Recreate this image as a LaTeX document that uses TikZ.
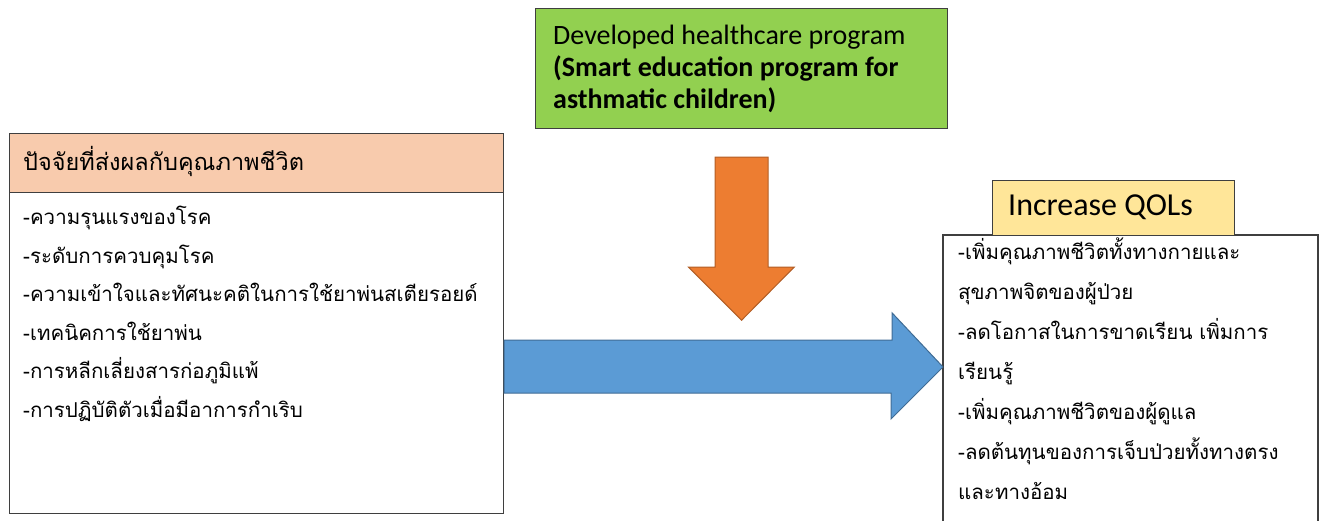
\documentclass[tikz,border=0pt]{standalone}
\usepackage{fontspec}
\usepackage{xcolor}
\setmainfont{Carlito}
\newfontfamily\thaifont[Script=Thai]{Loma}
\usetikzlibrary{calc}

\definecolor{headorange}{HTML}{F8CBAD}
\definecolor{proggreen}{HTML}{92D050}
\definecolor{qolyellow}{HTML}{FFE699}
\definecolor{arrorange}{HTML}{ED7D31}
\definecolor{arrblue}{HTML}{5B9BD5}
\definecolor{boxline}{HTML}{3F3F3F}

\begin{document}
\begin{tikzpicture}[x=1pt,y=-1pt,
  box/.style={draw=boxline, line width=1.2pt, anchor=north west, inner sep=0pt},
  thaibody/.style={anchor=base west, align=left, inner sep=0pt},
  bigarrow/.style={line width=1pt, line join=miter}]
\useasboundingbox (0,0) rectangle (1320,520);

% factors (left)
\node[box, fill=headorange, minimum width=494pt, minimum height=59pt] (facHead) at (9,133) {};
\node[box, fill=white, minimum width=494pt, minimum height=321pt] (facBody) at (9,192) {};
\node[anchor=west, inner sep=0pt, font=\thaifont\fontsize{23.5}{28}\selectfont] (facTitle) at (23,161) {ปัจจัยที่ส่งผลกับคุณภาพชีวิต};
% base anchor sits on the last line
\node[thaibody, font=\thaifont\fontsize{20.5}{38.5}\selectfont] (facList) at (23,417) {%
-ความรุนแรงของโรค\\
-ระดับการควบคุมโรค\\
-ความเข้าใจและทัศนะคติในการใช้ยาพ่นสเตียรอยด์\\
-เทคนิคการใช้ยาพ่น\\
-การหลีกเลี่ยงสารก่อภูมิแพ้\\
-การปฏิบัติตัวเมื่อมีอาการกำเริบ};

% program (top)
\node[box, fill=proggreen, minimum width=412pt, minimum height=120pt] (prog) at (535,8) {};
\node[anchor=base west, align=left, inner sep=0pt, font=\fontsize{28}{32}\selectfont] (progText) at (553,108) {%
Developed healthcare program\\
\textbf{(Smart education program for}\\
\textbf{asthmatic children)}};

% quality of life (right)
\draw[draw=boxline, line width=1.2pt, fill=white] (943,521) -- (943,235) -- (1318,235) -- (1318,521);
\coordinate (qolBody) at (943,235);
\node[box, fill=qolyellow, minimum width=242pt, minimum height=55pt] (qolHead) at (992,180) {};
\node[anchor=west, inner sep=0pt, font=\fontsize{32}{36}\selectfont] (qolTitle) at (1008,207) {Increase QOLs};
\node[thaibody, font=\thaifont\fontsize{20.5}{40}\selectfont] (qolList) at (958,499) {%
-เพิ่มคุณภาพชีวิตทั้งทางกายและ\\
สุขภาพจิตของผู้ป่วย\\
-ลดโอกาสในการขาดเรียน เพิ่มการ\\
เรียนรู้\\
-เพิ่มคุณภาพชีวิตของผู้ดูแล\\
-ลดต้นทุนของการเจ็บป่วยทั้งทางตรง\\
และทางอ้อม};

% arrows
\draw[bigarrow, draw=arrorange!75!black, fill=arrorange] (prog.south) ++(-26.5,28) -- ++(53,0) -- ++(0,110)
  -- ++(26,0) -- ++(-52.5,53) -- ++(-53,-53) -- ++(26.5,0) -- cycle;
\draw[bigarrow, draw=arrblue!70!black, fill=arrblue] (facBody.north east |- 0,340) -- ++(388,0) -- ++(0,-27)
  -- (qolBody |- 0,367) -- ++(-52,52) -- ++(0,-26) -- (facBody.north east |- 0,393) -- cycle;
\end{tikzpicture}
\end{document}
